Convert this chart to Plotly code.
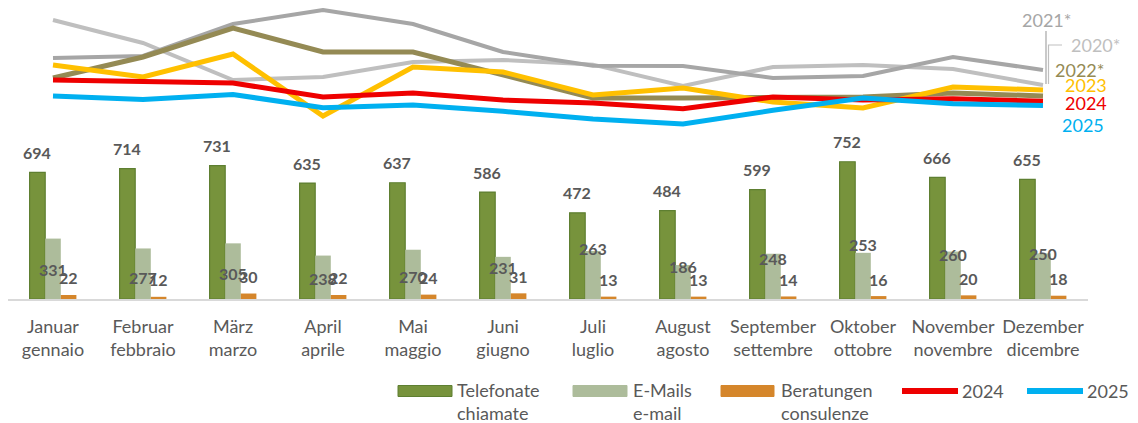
import plotly.graph_objects as go

months = ["Januar", "Februar", "März", "April", "Mai", "Juni", "Juli", "August",
          "September", "Oktober", "November", "Dezember"]
months_it = ["gennaio", "febbraio", "marzo", "aprile", "maggio", "giugno", "luglio",
             "agosto", "settembre", "ottobre", "novembre", "dicembre"]

telefonate = [694, 714, 731, 635, 637, 586, 472, 484, 599, 752, 666, 655]
emails = [331, 277, 305, 238, 270, 231, 263, 186, 248, 253, 260, 250]
beratungen = [22, 12, 30, 22, 24, 31, 13, 13, 14, 16, 20, 18]

# monthly totals per year (secondary, hidden axis)
y2020 = [2035, 1736, 1255, 1294, 1489, 1515, 1455, 1177, 1424, 1450, 1398, 1190]
y2021 = [1541, 1567, 1983, 2165, 1983, 1619, 1440, 1437, 1281, 1307, 1554, 1385]
y2022 = [1281, 1554, 1931, 1619, 1619, 1320, 1021, 1021, 1034, 1034, 1086, 1047]
y2023 = [1450, 1294, 1593, 787, 1424, 1359, 1060, 1151, 969, 891, 1164, 1125]
y2024 = [1255, 1230, 1215, 1035, 1085, 995, 955, 880, 1035, 995, 1010, 980]
y2025 = [1047, 1003, 1066, 895, 931, 848, 748, 683, 861, 1021, 946, 923]

FONT = "Lato"
GRAY_TXT = "#595959"
C_TEL, C_TEL_LINE = "#77933C", "#5E7F31"
C_MAIL = "#ADBC9B"
C_BER = "#D5862B"

OFF = 8  # page body margin
W, H = 1138 - OFF, 423 - OFF
L, T = 0, 0
PW, PH = 1080, 291
R, B = W - L - PW, H - T - PH
BASE = OFF + T + PH  # window y of the baseline


def pxx(px):
    return (px - OFF - L) / PW


def pxy(py):
    return (BASE - py) / PH


fig = go.Figure()
fig.add_trace(go.Bar(x=months, y=telefonate, name="Telefonate", marker=dict(color=C_TEL, line=dict(color=C_TEL_LINE, width=1.2)), showlegend=False))
fig.add_trace(go.Bar(x=months, y=emails, name="E-Mails", marker=dict(color=C_MAIL, line=dict(width=0)), showlegend=False))
fig.add_trace(go.Bar(x=months, y=beratungen, name="Beratungen", marker=dict(color=C_BER, line=dict(width=0)), showlegend=False))

lines = [
    ("2020*", y2020, "#BFBFBF", 4),
    ("2021*", y2021, "#A6A6A6", 4),
    ("2022*", y2022, "#948A54", 5),
    ("2023", y2023, "#FFC000", 5),
    ("2024", y2024, "#EE0000", 5),
    ("2025", y2025, "#00B0F0", 5),
]
for name, vals, col, w in lines:
    fig.add_trace(go.Scatter(x=months, y=vals, name=name, yaxis="y2", mode="lines",
                             line=dict(color=col, width=w), showlegend=False))

ann = []
bw = 90 * (1 - 0.48) / 3
email_shift = [-31, -29, -30, -23, -27, -11, 3, -1, -5, 8, -3, 0]
for i, m in enumerate(months):
    ann.append(dict(x=m, y=telefonate[i], xref="x", yref="y", text=str(telefonate[i]), showarrow=False,
                    xshift=-bw, yshift=20, yanchor="middle",
                    font=dict(family=FONT, size=16, color=GRAY_TXT, weight="bold")))
    ann.append(dict(x=m, y=emails[i], xref="x", yref="y", text=str(emails[i]), showarrow=False,
                    xshift=0, yshift=email_shift[i], yanchor="middle",
                    font=dict(family=FONT, size=16, color=GRAY_TXT, weight="bold")))
    ann.append(dict(x=m, y=beratungen[i], xref="x", yref="y", text=str(beratungen[i]), showarrow=False,
                    xshift=bw, yshift=17, yanchor="middle",
                    font=dict(family=FONT, size=16, color=GRAY_TXT, weight="bold")))

# series end labels
end_labels = [
    ("2021*", y2021, "#A6A6A6", 3, 50, "center"),
    ("2020*", y2020, "#BFBFBF", 26, 40, "left"),
    ("2022*", y2022, "#948A54", 10, 26, "left"),
    ("2023", y2023, "#FFC000", 20, 5, "left"),
    ("2024", y2024, "#EE0000", 20, -2, "left"),
    ("2025", y2025, "#00B0F0", 17, -19, "left"),
]
for name, vals, col, xs, ys, anc in end_labels:
    ann.append(dict(x=months[-1], y=vals[-1], xref="x", yref="y2", text=name, showarrow=False,
                    xshift=xs, yshift=ys, xanchor=anc, yanchor="middle",
                    font=dict(family=FONT, size=18, color=col)))

shapes = [
    dict(type="path", xref="paper", yref="paper",
         path=f"M {pxx(1046)},{pxy(31)} L {pxx(1046)},{pxy(84)}",
         line=dict(color="#A6A6A6", width=1.2)),
    dict(type="path", xref="paper", yref="paper",
         path=f"M {pxx(1062)},{pxy(45)} L {pxx(1048.5)},{pxy(45)} L {pxx(1048.5)},{pxy(84)}",
         line=dict(color="#BFBFBF", width=1.2)),
]

# custom legend
leg_y = 391
rects = [(398, 452, C_TEL, C_TEL_LINE), (573, 627, C_MAIL, C_MAIL), (721, 774, C_BER, C_BER)]
for x0, x1, col, lc in rects:
    shapes.append(dict(type="rect", xref="paper", yref="paper", x0=pxx(x0), x1=pxx(x1),
                       y0=pxy(leg_y + 5.5), y1=pxy(leg_y - 5.5), fillcolor=col,
                       line=dict(color=lc, width=1)))
for x0, x1, col in [(902, 958, "#EE0000"), (1027, 1083, "#00B0F0")]:
    shapes.append(dict(type="line", xref="paper", yref="paper", x0=pxx(x0), x1=pxx(x1),
                       y0=pxy(leg_y), y1=pxy(leg_y), line=dict(color=col, width=6)))
leg_texts = [(455, "Telefonate<br>chiamate", 401), (631, "E-Mails<br>e-mail", 401),
             (779, "Beratungen<br>consulenze", 401), (960, "2024", leg_y), (1085, "2025", leg_y)]
for x, t, y in leg_texts:
    ann.append(dict(x=pxx(x), y=pxy(y), xref="paper", yref="paper", text=t, showarrow=False,
                    xanchor="left", yanchor="middle", align="left",
                    font=dict(family=FONT, size=18, color=GRAY_TXT)))

fig.update_layout(
    width=W, height=H,
    margin=dict(l=L, r=R, t=T, b=B, autoexpand=False),
    paper_bgcolor="white", plot_bgcolor="white",
    barmode="group", bargap=0.48, bargroupgap=0,
    showlegend=False,
    font=dict(family=FONT, color=GRAY_TXT),
    xaxis=dict(type="category", range=[-0.5, 11.5], autorange=False,
               tickmode="array", tickvals=months,
               ticktext=[f"{a}<br>{b}" for a, b in zip(months, months_it)],
               tickfont=dict(family=FONT, size=18, color=GRAY_TXT),
               showline=True, linecolor="#D9D9D9", linewidth=2, ticks="",
               ticklabelstandoff=10,
               showgrid=False, zeroline=False, automargin=False),
    yaxis=dict(range=[0, PH / 0.1825], visible=False, showgrid=False, zeroline=False),
    yaxis2=dict(range=[1047 - 13.0 * (BASE - 96), 1047 + 13.0 * (96 - OFF - T)], overlaying="y",
                side="right", visible=False, showgrid=False, zeroline=False),
    annotations=ann,
    shapes=shapes,
)

fig.write_html("out.html", config={"responsive": False})
